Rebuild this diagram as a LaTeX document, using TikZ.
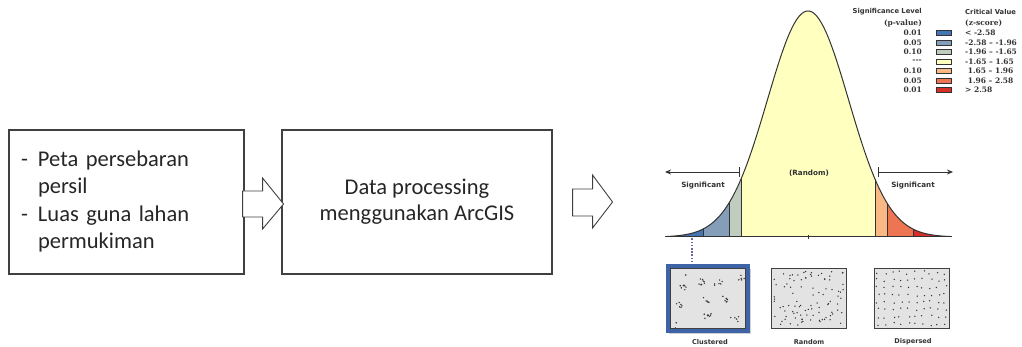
\documentclass[tikz,border=0pt]{standalone}
\usepackage{fontspec}
\setmainfont{Carlito}
\newfontfamily\chsans{DejaVu Sans}
\newfontfamily\chserif{DejaVu Serif}
\usetikzlibrary{arrows.meta,calc}
\definecolor{cA}{HTML}{4575B5}
\definecolor{cB}{HTML}{849EBA}
\definecolor{cC}{HTML}{C0CCBE}
\definecolor{cD}{HTML}{FFFFBF}
\definecolor{cE}{HTML}{FAB984}
\definecolor{cF}{HTML}{ED7551}
\definecolor{cG}{HTML}{D62F27}
\definecolor{frameblue}{HTML}{3E64A8}
\definecolor{ink}{HTML}{333333}
\definecolor{boxline}{HTML}{404040}
\definecolor{sampfill}{HTML}{E3E3E3}
\begin{document}
\begin{tikzpicture}[x=1pt,y=-1pt,
  declare function={bell(\t)=237-226*exp(-((\t-808)/40.6)^2/2);},
  procbox/.style={draw=boxline, line width=1.1pt, minimum height=144pt, inner sep=0pt,
    font=\fontsize{22.5pt}{27.5pt}\selectfont, text=black!85},
  blockarr/.style={draw=boxline, line width=0.9pt, fill=white, line join=miter},
  chlabel/.style={font=\chsans\bfseries\fontsize{7.2pt}{8pt}\selectfont, text=ink, inner sep=0pt},
  leghead/.style={font=\chsans\bfseries\fontsize{6.8pt}{8pt}\selectfont, text=ink, inner sep=0pt},
  legval/.style={font=\chserif\bfseries\fontsize{7.5pt}{8pt}\selectfont, text=ink, inner sep=0pt},
  swatch/.style={draw=ink, line width=0.5pt, minimum width=15pt, minimum height=5pt, inner sep=0pt},
  sampbox/.style={draw=boxline, line width=0.9pt, fill=sampfill, minimum width=75pt, minimum height=60pt, inner sep=0pt},
  sampdot/.style={fill=ink},
  siglink/.style={line width=0.9pt, draw=ink, {Bar[width=10pt]}-{Stealth[length=6pt,width=5pt]}},
  dotline/.style={line width=2pt, draw=gray!80!blue, dash pattern=on 1.6pt off 1.6pt}
]
\useasboundingbox (0,0) rectangle (1022,347);

% ---------- process boxes ----------
\node[procbox, minimum width=235pt, text width=211pt, align=left] (src) at (126.5,202)
  {\begin{tabular}{@{}p{17pt}@{}l@{}}-&Peta persebaran\\&persil\\-&Luas guna lahan\\&permukiman\end{tabular}};
\node[procbox, minimum width=270pt, align=center] (proc) at (417,202)
  {\raisebox{-2pt}{\begin{tabular}{@{}c@{}}Data processing\\[-1pt]menggunakan ArcGIS\end{tabular}}};

% ---------- block arrows ----------
\draw[blockarr, shift={(src.east)}] (-2,-11) -- (18,-11) -- (18,-24) -- (39,2) -- (18,27) -- (18,15) -- (-2,15) -- cycle;
\draw[blockarr, shift={(proc.east)}] (20,-13) -- (40,-13) -- (40,-27) -- (60,0) -- (40,26) -- (40,14) -- (20,14) -- cycle;

% ---------- bell curve ----------
\foreach \a/\b/\c in {667/703/cA, 703/729/cB, 729/741/cC, 741/875/cD, 875/887/cE, 887/913/cF, 913/950/cG}{
  \fill[\c] (\a,237) -- plot[domain=\a:\b, samples=40] (\x,{bell(\x)}) -- (\b,237) -- cycle;
}
\foreach \v in {703,729,741,875,887,913}{
  \draw[ink, line width=0.7pt] (\v,237) -- (\v,{bell(\v)});
}
\draw[ink, line width=1pt] plot[domain=667:950, samples=220, smooth] (\x,{bell(\x)});
\draw[ink, line width=1pt] (665,237) -- (952,237);
\draw[ink, line width=0.8pt] (808,235) -- (808,239.5);

% significance arrows
\coordinate (lbar) at (740,172);
\coordinate (lend) at (665,172);
\coordinate (rbar) at (878,172);
\coordinate (rend) at (953,172);
\draw[siglink] (lbar) -- (lend);
\draw[siglink] (rbar) -- (rend);
\node[chlabel] (sigL) at (703,186) {Significant};
\node[chlabel] (sigR) at (913,186) {Significant};
\node[chlabel] (rnd) at (809,173) {(Random)};

% ---------- legend ----------
\node[leghead, anchor=east] (hp1) at (922,12) {Significance Level};
\node[legval, anchor=east] (hp2) at (922,23) {(p-value)};
\node[leghead, anchor=west] (hz1) at (965,12) {Critical Value};
\node[legval, anchor=west] (hz2) at (965,23) {(z-score)};
\foreach \i/\p/\z/\c in {0/{0.01}/{< -2.58}/cA, 1/{0.05}/{-2.58 – -1.96}/cB, 2/{0.10}/{-1.96 – -1.65}/cC,
  3/{-{}-{}-}/{-1.65 – 1.65}/cD, 4/{0.10}/{\ 1.65 – 1.96}/cE, 5/{0.05}/{\ 1.96 – 2.58}/cF, 6/{0.01}/{> 2.58}/cG}{
  \node[legval, anchor=east] (pv\i) at (922,{33+9.5*\i}) {\p};
  \node[swatch, fill=\c] (sw\i) at (943.5,{33+9.5*\i}) {};
  \node[legval, anchor=west] (zs\i) at (965,{33+9.5*\i}) {\z};
}

% ---------- sample pattern boxes ----------
\fill[gray!35] (669,269) rectangle (751,334);
\node[sampbox] (clu) at (708,298.5) {};
\draw[frameblue, line width=3.6pt] ($(clu.south west)+(-2,2)$) rectangle ($(clu.north east)+(2,-2)$);
\node[sampbox] (ran) at (809,298.5) {};
\node[sampbox] (dis) at (912,298.5) {};

\pgfmathsetseed{11}
% clustered
\foreach \cx/\cy/\n in {683/287/7, 700/282/8, 718/283/6, 740/278/5, 678/305/6, 705/300/5, 726/299/7, 707/317/8, 735/320/5, 673/326/2, 682/272/1}{
  \foreach \k in {1,...,\n}{
    \pgfmathsetmacro\dx{4.5*rand}
    \pgfmathsetmacro\dy{3.5*rand}
    \fill[sampdot] (\cx+\dx,\cy+\dy) circle[radius=0.8pt];
  }
}
% random
\foreach \k in {1,...,95}{
  \pgfmathsetmacro\rx{809+35*rand}
  \pgfmathsetmacro\ry{298.5+27*rand}
  \fill[sampdot] (\rx,\ry) circle[radius=0.75pt];
}
% dispersed
\foreach \i in {0,...,9}{
  \foreach \j in {0,...,7}{
    \pgfmathsetmacro\rx{878+7.5*\i+1.8*rand}
    \pgfmathsetmacro\ry{272.5+7.4*\j+1.8*rand}
    \fill[sampdot] (\rx,\ry) circle[radius=0.75pt];
  }
}

\coordinate (dA) at (692,238.5);
\draw[dotline] (dA) -- ($(dA |- clu.north)+(0,-5)$);

\node[chlabel, font=\chsans\bfseries\fontsize{6.6pt}{8pt}\selectfont] (lclu) at (710,342) {Clustered};
\node[chlabel, font=\chsans\bfseries\fontsize{6.6pt}{8pt}\selectfont] (lran) at (809,342) {Random};
\node[chlabel, font=\chsans\bfseries\fontsize{6.6pt}{8pt}\selectfont] (ldis) at (913,342) {Dispersed};
\end{tikzpicture}
\end{document}
